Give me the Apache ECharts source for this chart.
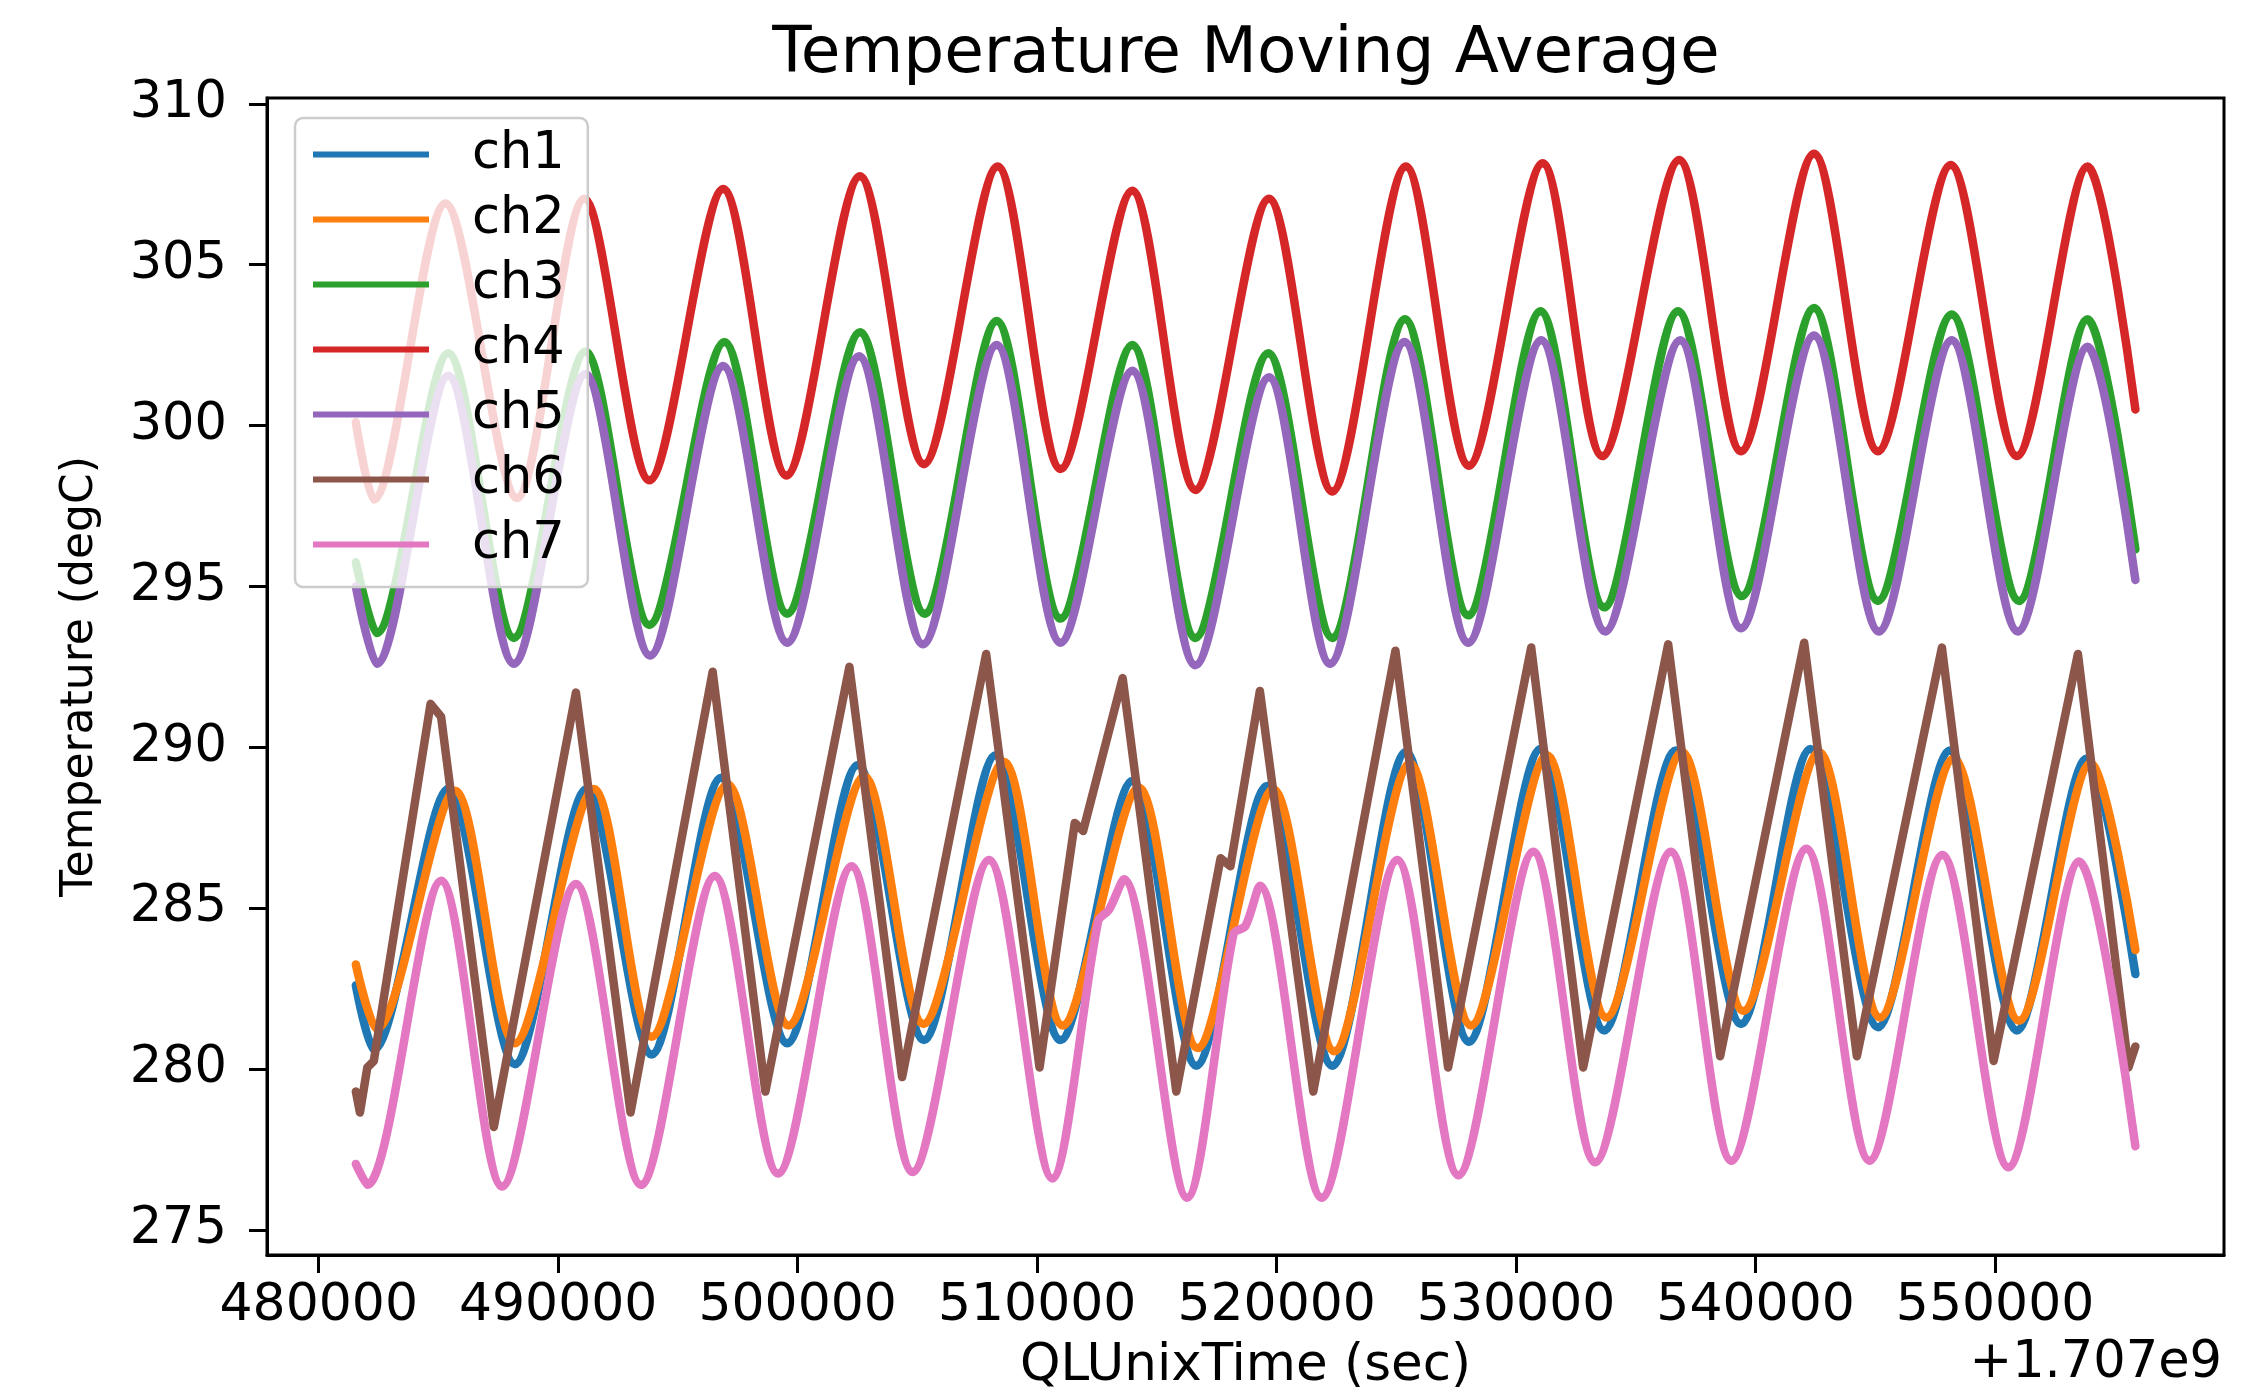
<!DOCTYPE html>
<html>
<head>
<meta charset="utf-8">
<script src="https://cdn.jsdelivr.net/npm/echarts@6/dist/echarts.min.js"></script>
<style>
html,body{margin:0;padding:0;background:#fff;}
#c{width:2255px;height:1398px;}
</style>
</head>
<body>
<div id="c"></div>
<script>
// ---- data ----
const seriesNames = ['ch1','ch2','ch3','ch4','ch5','ch6','ch7'];
const xTicks = [480000, 490000, 500000, 510000, 520000, 530000, 540000, 550000];
const yTicks = [275, 280, 285, 290, 295, 300, 305, 310];

const ch1_t = [481550, 482300, 485410, 488190, 491180, 493900, 496800, 499560, 502510, 505270, 508260, 510980, 513970, 516650, 519590, 522320, 525400, 528030, 531020, 533680, 536660, 539390, 542290, 545110, 548110, 550910, 553820, 555860];
const ch1_v = [282.6, 280.6, 288.7, 280.15, 288.7, 280.45, 289.05, 280.8, 289.45, 280.9, 289.75, 280.9, 288.95, 280.1, 288.8, 280.1, 289.85, 280.85, 289.95, 281.2, 289.9, 281.4, 289.95, 281.3, 289.9, 281.2, 289.65, 282.95];

const ch2_t = [481550, 482420, 485690, 488190, 491490, 493900, 497070, 499620, 502780, 505250, 508610, 511070, 514240, 516700, 519860, 522410, 525570, 528120, 531290, 533770, 536930, 539490, 542650, 545200, 548270, 551000, 553990, 555860];
const ch2_v = [283.25, 281.25, 288.65, 280.8, 288.7, 281.0, 288.85, 281.35, 289.1, 281.4, 289.55, 281.35, 288.75, 280.65, 288.7, 280.55, 289.5, 281.35, 289.75, 281.6, 289.85, 281.8, 289.85, 281.6, 289.65, 281.5, 289.5, 283.7];

const ch3_t = [481550, 482420, 485410, 488150, 491140, 493810, 496940, 499560, 502600, 505300, 508310, 510980, 513970, 516610, 519650, 522320, 525360, 528000, 531020, 533680, 536760, 539430, 542440, 545110, 548190, 551000, 553860, 555860];
const ch3_v = [295.75, 293.55, 302.25, 293.4, 302.3, 293.8, 302.6, 294.15, 302.9, 294.15, 303.25, 294.0, 302.5, 293.4, 302.25, 293.4, 303.3, 294.1, 303.55, 294.35, 303.55, 294.7, 303.65, 294.55, 303.45, 294.55, 303.3, 296.15];

const ch4_t = [481550, 482300, 485290, 488280, 491090, 493810, 496890, 499530, 502600, 505270, 508350, 510980, 513970, 516610, 519680, 522320, 525400, 528030, 531110, 533600, 536810, 539390, 542440, 545110, 548150, 550910, 553860, 555860];
const ch4_v = [300.1, 297.7, 306.9, 297.75, 307.05, 298.3, 307.35, 298.45, 307.75, 298.8, 308.05, 298.65, 307.3, 298.0, 307.05, 297.95, 308.05, 298.75, 308.15, 299.05, 308.25, 299.2, 308.45, 299.2, 308.1, 299.05, 308.05, 300.5];

const ch5_t = [481550, 482420, 485410, 488150, 491140, 493840, 496890, 499560, 502560, 505230, 508310, 510980, 513970, 516610, 519680, 522230, 525340, 528000, 531050, 533720, 536850, 539390, 542440, 545150, 548190, 550950, 553860, 555860];
const ch5_v = [295.0, 292.6, 301.55, 292.6, 301.6, 292.85, 301.85, 293.25, 302.15, 293.2, 302.5, 293.25, 301.7, 292.55, 301.5, 292.6, 302.6, 293.25, 302.65, 293.6, 302.65, 293.7, 302.8, 293.6, 302.65, 293.6, 302.45, 295.2];

const ch6_t = [481550, 481720, 482030, 482300, 484670, 485110, 487310, 490740, 493020, 496450, 498650, 502160, 504360, 507870, 510100, 511570, 511920, 513570, 515810, 517660, 518070, 519300, 521530, 524960, 527160, 530630, 532800, 536350, 538520, 542030, 544230, 547780, 549940, 553460, 555570, 555860];
const ch6_v = [279.3, 278.65, 280.05, 280.25, 291.35, 290.95, 278.2, 291.7, 278.65, 292.35, 279.3, 292.5, 279.75, 292.9, 280.05, 287.65, 287.4, 292.15, 279.3, 286.55, 286.3, 291.75, 279.3, 293.0, 280.05, 293.1, 280.05, 293.2, 280.4, 293.25, 280.4, 293.1, 280.25, 292.9, 280.05, 280.7];

const ch7_t = [481550, 482030, 485110, 487660, 490740, 493460, 496540, 499180, 502250, 504800, 507990, 510630, 512550, 513000, 513620, 516260, 518200, 518700, 519300, 521880, 525040, 527590, 530720, 533300, 536460, 538990, 542120, 544760, 547800, 550560, 553510, 555860];
const ch7_v = [277.05, 276.4, 285.85, 276.35, 285.75, 276.4, 286.0, 276.75, 286.3, 276.8, 286.5, 276.6, 284.6, 284.95, 285.9, 276.0, 284.2, 284.45, 285.7, 276.0, 286.5, 276.7, 286.75, 277.1, 286.75, 277.15, 286.85, 277.15, 286.65, 276.95, 286.45, 277.6];

const colors = ['#1f77b4','#ff7f0e','#2ca02c','#d62728','#9467bd','#8c564b','#e377c2'];
const allT = [ch1_t, ch2_t, ch3_t, ch4_t, ch5_t, ch6_t, ch7_t];
const allV = [ch1_v, ch2_v, ch3_v, ch4_v, ch5_v, ch6_v, ch7_v];
const smoothFlags = [0.3, 0.3, 0.3, 0.3, 0.3, false, 0.3];

const FONT = 'DejaVu Sans';
const pairs = (t, v) => t.map((x, i) => [x, v[i]]);

const chart = echarts.init(document.getElementById('c'), null, {renderer: 'canvas'});
const option = {
  backgroundColor: '#ffffff',
  animation: false,
  title: [
    {text: 'Temperature Moving Average', left: 1246, top: 23, textAlign: 'center', padding: 0,
     textStyle: {fontFamily: FONT, fontSize: 64.5, fontWeight: 'normal', color: '#000'}},
    {text: '+1.707e9', left: 2222, top: 1338, textAlign: 'right', padding: 0,
     textStyle: {fontFamily: FONT, fontSize: 51, fontWeight: 'normal', color: '#000'}}
  ],
  legend: {
    orient: 'vertical', left: 295, top: 118,
    padding: [11, 23, 17, 18],
    itemWidth: 116, itemHeight: 6, itemGap: 14, icon: 'rect',
    backgroundColor: 'rgba(255,255,255,0.8)', borderColor: '#cccccc', borderWidth: 2.5, borderRadius: 8,
    data: seriesNames,
    formatter: name => '{n|' + name + '}',
    textStyle: {fontFamily: FONT, fontSize: 51, color: '#000', lineHeight: 50,
      rich: {n: {fontFamily: FONT, fontSize: 51, color: '#000', lineHeight: 50, padding: [0, 0, 0, 38]}}}
  },
  grid: {left: 267, right: 31, top: 98, bottom: 142, show: true, borderColor: '#000', borderWidth: 3, backgroundColor: 'transparent'},
  xAxis: {
    type: 'value', min: 477840, max: 559560,
    name: 'QLUnixTime (sec)', nameLocation: 'middle', nameGap: 86,
    nameTextStyle: {fontFamily: FONT, fontSize: 51.5, color: '#000'},
    axisLine: {show: true, onZero: false, lineStyle: {color: '#000', width: 3}},
    axisTick: {show: true, length: 18, lineStyle: {color: '#000', width: 3}, customValues: xTicks},
    axisLabel: {fontFamily: FONT, fontSize: 52, color: '#000', margin: 25, customValues: xTicks,
      formatter: v => String(v)},
    splitLine: {show: false}
  },
  yAxis: {
    type: 'value', min: 274.22, max: 310.18,
    name: 'Temperature (degC)', nameLocation: 'middle', nameGap: 164,
    nameTextStyle: {fontFamily: FONT, fontSize: 44, color: '#000'},
    axisLine: {show: true, onZero: false, lineStyle: {color: '#000', width: 3}},
    axisTick: {show: true, length: 18, lineStyle: {color: '#000', width: 3}, customValues: yTicks},
    axisLabel: {fontFamily: FONT, fontSize: 51, color: '#000', margin: 40, customValues: yTicks,
      formatter: v => String(v)},
    splitLine: {show: false}
  },
  series: seriesNames.map((n, i) => ({
    name: n, type: 'line', data: pairs(allT[i], allV[i]),
    smooth: smoothFlags[i], showSymbol: false, symbol: 'none',
    color: colors[i],
    lineStyle: {color: colors[i], width: 8.5, join: 'round', cap: 'round'},
    itemStyle: {color: colors[i]},
    emphasis: {disabled: true}
  }))
};
chart.setOption(option);
</script>
</body>
</html>
